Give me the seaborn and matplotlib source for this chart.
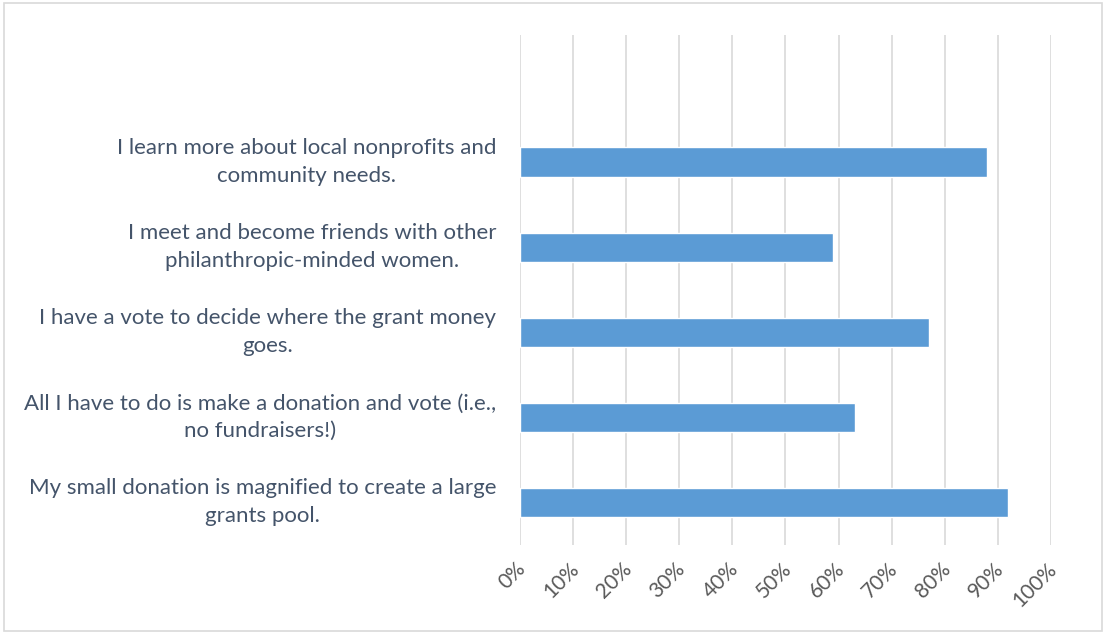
import matplotlib
matplotlib.use("Agg")
import matplotlib.pyplot as plt
import matplotlib.transforms as mtransforms
from matplotlib.ticker import PercentFormatter, MultipleLocator
from matplotlib.patches import Rectangle
import seaborn as sns
import pandas as pd

# Reasons members give for joining, share of respondents agreeing
reasons = [
    "I learn more about local nonprofits and\ncommunity needs.",
    "I meet and become friends with other\nphilanthropic-minded women.",
    "I have a vote to decide where the grant money\ngoes.",
    "All I have to do is make a donation and vote (i.e.,\nno fundraisers!)",
    "My small donation is magnified to create a large\ngrants pool.",
]
shares = [0.88, 0.59, 0.77, 0.63, 0.92]

df = pd.DataFrame({"reason": reasons, "share": shares})

sns.set_theme(style="white")
plt.rcParams["font.family"] = ["Lato", "DejaVu Sans"]

fig = plt.figure(figsize=(11.05, 6.33), dpi=100)
ax = fig.add_axes([0.4706, 0.139, 0.4805, 0.806])

sns.barplot(data=df, x="share", y="reason", orient="h", color="#5B9BD5",
            width=0.35, saturation=1, ax=ax)

ax.set_xlim(0, 1)
ax.set_ylim(4.5, -1.5)
ax.xaxis.set_major_locator(MultipleLocator(0.1))
ax.xaxis.set_major_formatter(PercentFormatter(1.0, decimals=0))
ax.grid(axis="x", color="#D9D9D9", linewidth=1.2)
ax.set_axisbelow(True)
for s in ax.spines.values():
    s.set_visible(False)
ax.set_xlabel("")
ax.set_ylabel("")

ax.tick_params(axis="y", length=0, pad=17, labelsize=16, labelcolor="#44546A")
yshift = mtransforms.ScaledTranslation(0, 6 / 100, fig.dpi_scale_trans)
for lab in ax.get_yticklabels():
    lab.set_multialignment("center")
    lab.set_linespacing(1.45)
    lab.set_transform(lab.get_transform() + yshift)

ax.tick_params(axis="x", length=0, pad=15, labelsize=15, labelcolor="#595959")
offset = mtransforms.ScaledTranslation(2 / 72, 0, fig.dpi_scale_trans)
for lab in ax.get_xticklabels():
    lab.set_rotation(45)
    lab.set_ha("right")
    lab.set_va("center")
    lab.set_rotation_mode("anchor")
    lab.set_transform(lab.get_transform() + offset)

# light chart-area frame
fig.patches.append(Rectangle((0.004, 0.003), 0.993, 0.992, transform=fig.transFigure,
                             fill=False, edgecolor="#D9D9D9", linewidth=1.2))

fig.savefig("out.png", dpi=100, facecolor="white")
